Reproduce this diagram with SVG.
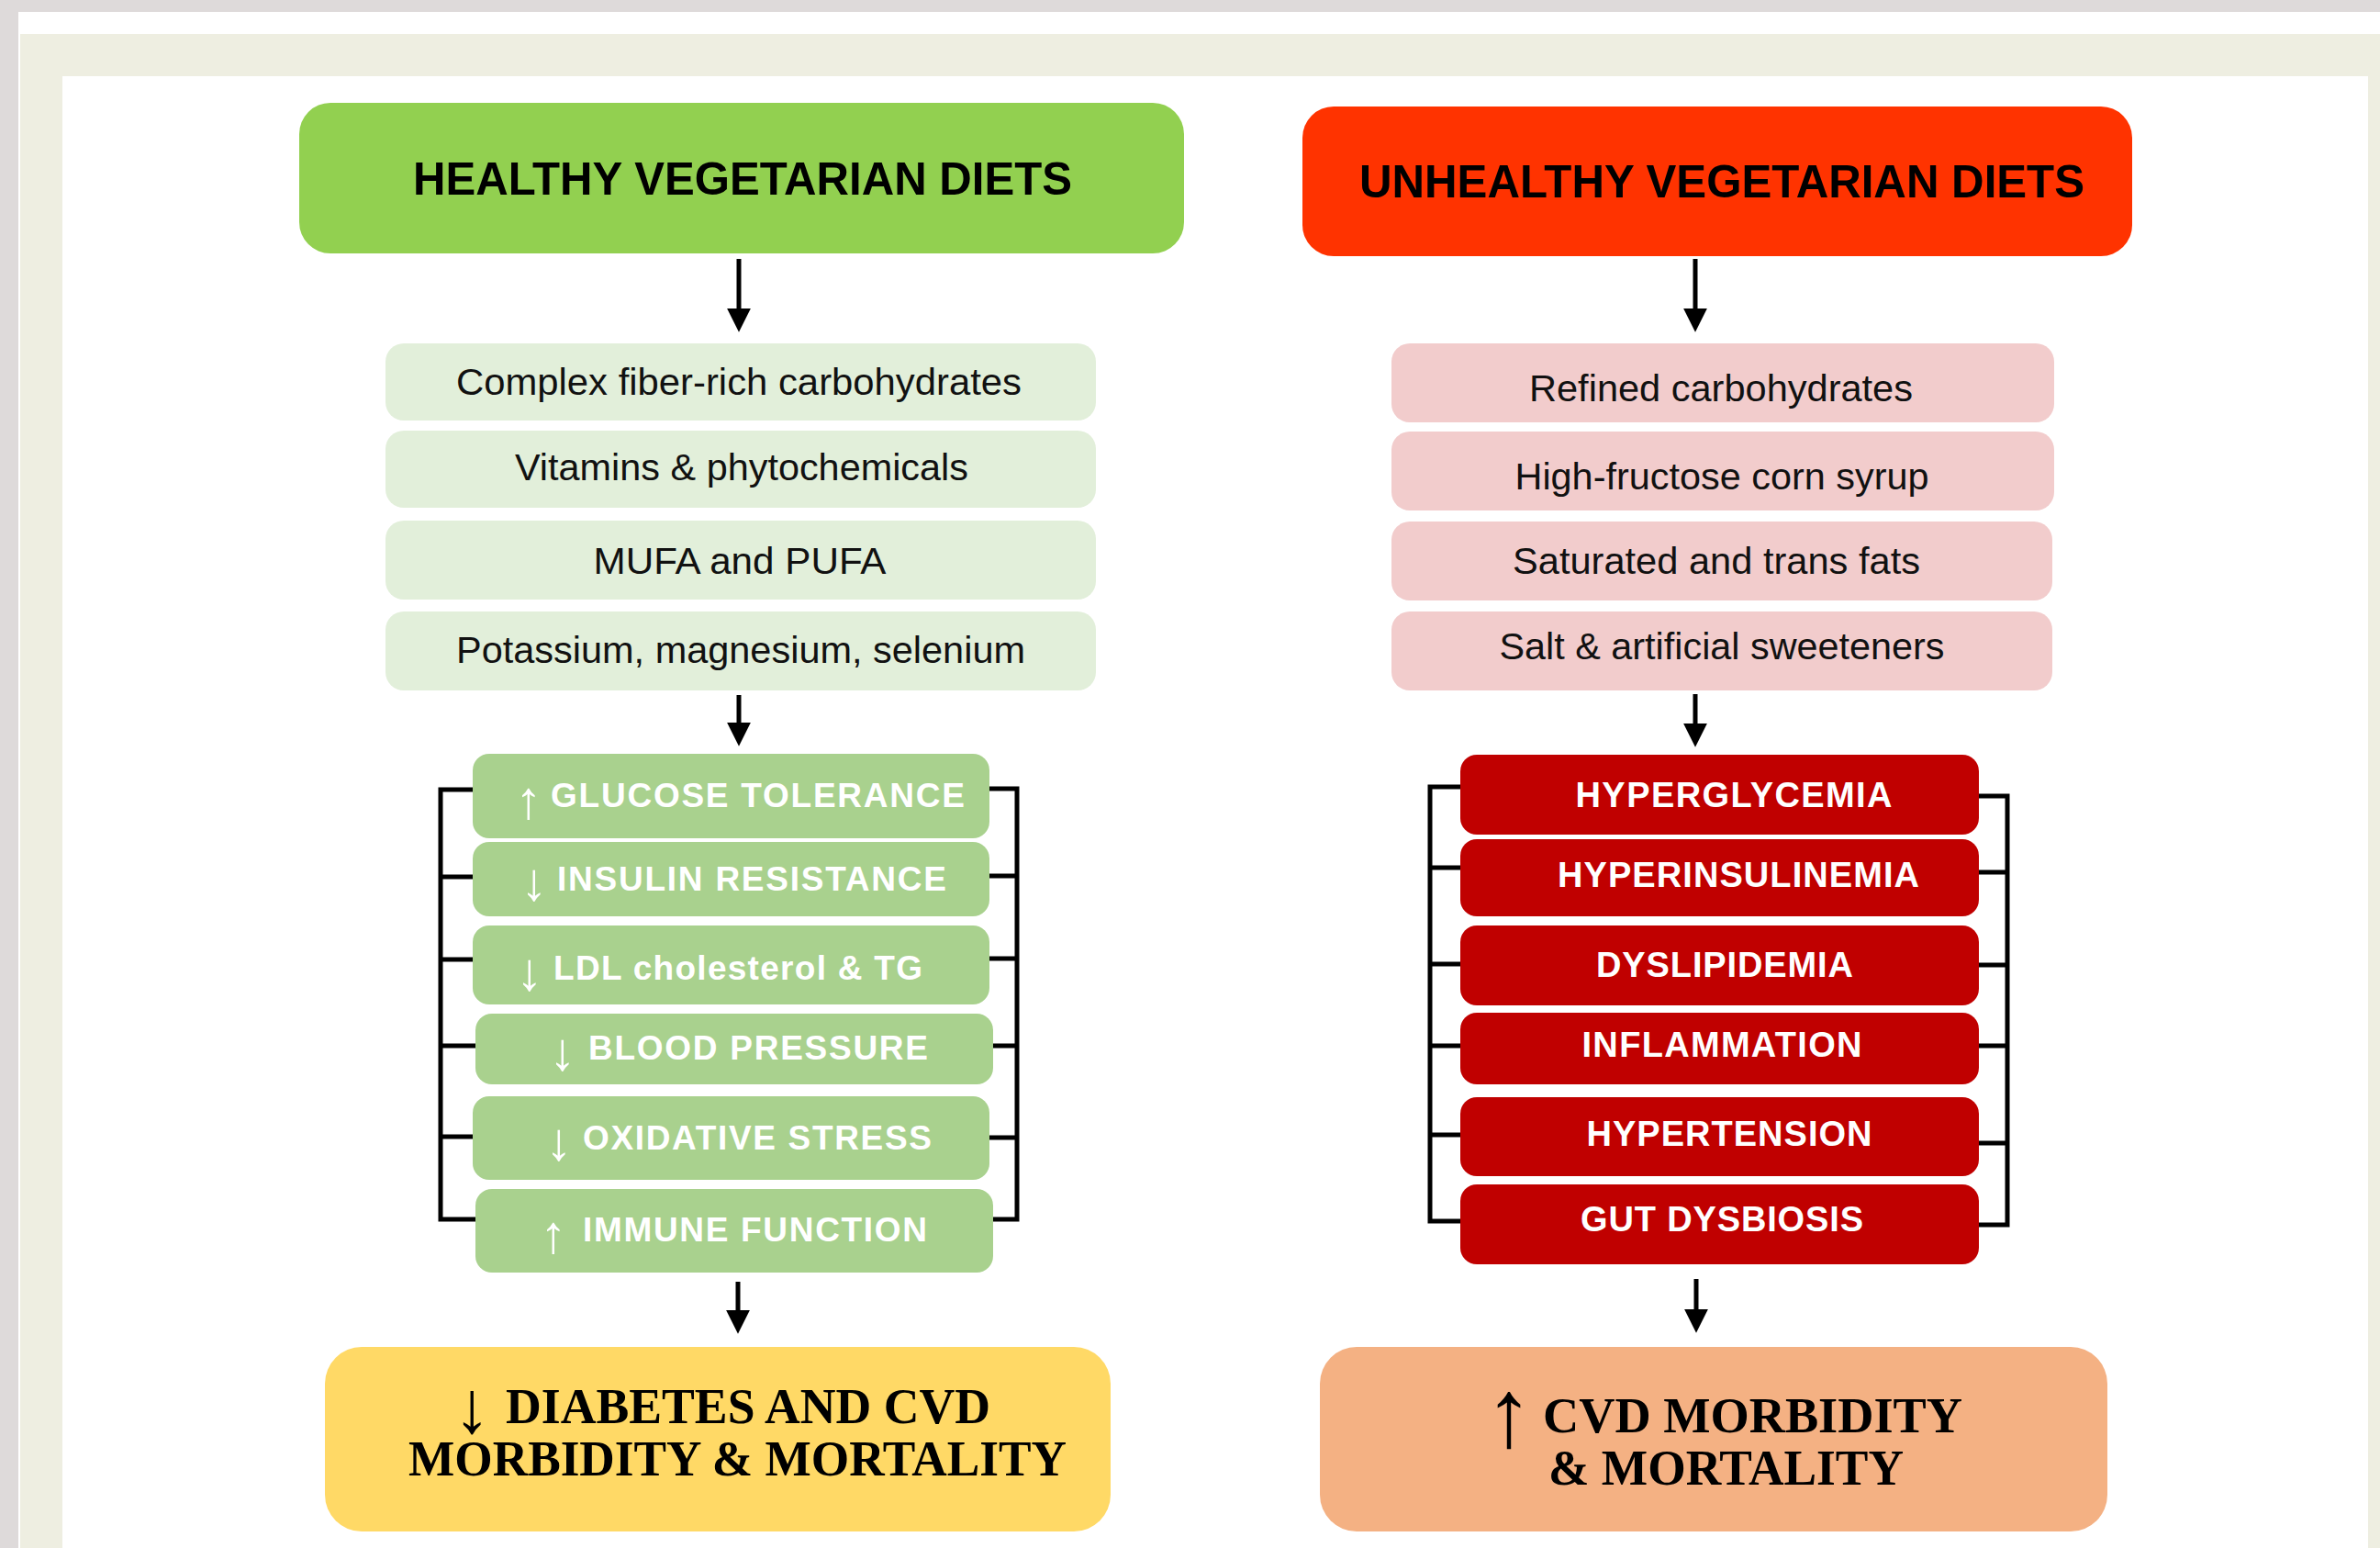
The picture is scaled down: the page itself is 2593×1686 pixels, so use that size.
<svg xmlns="http://www.w3.org/2000/svg" width="2593" height="1686" viewBox="0 0 2593 1686">
  <style>
    .hdr { font-family: "Liberation Sans", Arial, sans-serif; font-weight: bold; font-size: 50px; fill: #000; text-anchor: middle; }
    .item { font-family: "Liberation Sans", Arial, sans-serif; font-size: 41px; fill: #111; text-anchor: middle; }
    .eff { font-family: "Liberation Sans", Arial, sans-serif; font-weight: bold; font-size: 37px; fill: #fff; }
    .effR { font-family: "Liberation Sans", Arial, sans-serif; font-weight: bold; font-size: 38px; fill: #fff; text-anchor: middle; }
    .sym { font-family: "Liberation Sans", Arial, sans-serif; font-size: 58px; fill: #fff; text-anchor: middle; }
    .out { font-family: "Liberation Serif", "Times New Roman", serif; font-weight: bold; font-size: 54px; fill: #000; }
    .outsym { font-family: "Liberation Serif", "Times New Roman", serif; fill: #000; text-anchor: middle; }
    .conn { stroke: #000; stroke-width: 5; fill: none; }
    .brk { stroke: #000; stroke-width: 5; fill: none; stroke-linejoin: miter; }
    .hG { fill: #92D050; }
    .hR { fill: #FF3300; }
    .iG { fill: #E2EFDA; }
    .iR { fill: #F2CCCC; }
    .eG { fill: #A9D18E; }
    .eR { fill: #C00000; }
  </style>
  <defs>
    <marker id="head" viewBox="0 0 10 10" refX="0.5" refY="5" markerWidth="26" markerHeight="26" markerUnits="userSpaceOnUse" orient="auto">
      <path d="M0,0 L10,5 L0,10 z" fill="#000"/>
    </marker>
  </defs>

  <!-- page frame -->
  <g id="frame">
    <rect x="0" y="0" width="2593" height="1686" fill="#DEDADA"/>
    <rect x="20" y="13" width="2573" height="1673" fill="#FFFFFF"/>
    <rect x="22" y="37" width="2571" height="1649" fill="#EEEEE1"/>
    <rect x="68" y="83" width="2512" height="1603" fill="#FFFFFF"/>
  </g>

  <!-- connectors -->
  <g id="connectors">
    <line class="conn" x1="805" y1="282" x2="805" y2="337" marker-end="url(#head)"/>
    <line class="conn" x1="1847" y1="282" x2="1847" y2="337" marker-end="url(#head)"/>
    <line class="conn" x1="805" y1="757" x2="805" y2="788" marker-end="url(#head)"/>
    <line class="conn" x1="1847" y1="756" x2="1847" y2="789" marker-end="url(#head)"/>
    <line class="conn" x1="804" y1="1396" x2="804" y2="1428" marker-end="url(#head)"/>
    <line class="conn" x1="1848" y1="1393" x2="1848" y2="1427" marker-end="url(#head)"/>

    <!-- brackets round the left effect stack -->
    <path class="brk" d="M516,860 H480 V1328 H518 M480,955 H516 M480,1045 H516 M480,1139 H519 M480,1238 H516"/>
    <path class="brk" d="M1078,859 H1108 V1328 H1082 M1108,954 H1078 M1108,1044 H1078 M1108,1139 H1082 M1108,1239 H1078"/>
    <!-- brackets round the right effect stack -->
    <path class="brk" d="M1592,857 H1558 V1330 H1592 M1558,945 H1592 M1558,1050 H1592 M1558,1139 H1592 M1558,1236 H1592"/>
    <path class="brk" d="M2155,867 H2187 V1334 H2155 M2187,950 H2155 M2187,1051 H2155 M2187,1139 H2155 M2187,1245 H2155"/>
  </g>

  <!-- headers -->
  <g id="healthy-diets">
    <rect class="hG" x="326" y="112" width="964" height="164" rx="34"/>
    <text class="hdr" x="809" y="212" textLength="718" lengthAdjust="spacingAndGlyphs">HEALTHY VEGETARIAN DIETS</text>
  </g>
  <g id="unhealthy-diets">
    <rect class="hR" x="1419" y="116" width="904" height="163" rx="34"/>
    <text class="hdr" x="1876" y="215" textLength="790" lengthAdjust="spacingAndGlyphs">UNHEALTHY VEGETARIAN DIETS</text>
  </g>

  <!-- healthy components -->
  <g id="complex-carbs">
    <rect class="iG" x="420" y="374" width="774" height="84" rx="20"/>
    <text class="item" x="805" y="430" textLength="616" lengthAdjust="spacingAndGlyphs">Complex fiber-rich carbohydrates</text>
  </g>
  <g id="vitamins">
    <rect class="iG" x="420" y="469" width="774" height="84" rx="20"/>
    <text class="item" x="808" y="523" textLength="494" lengthAdjust="spacingAndGlyphs">Vitamins &amp; phytochemicals</text>
  </g>
  <g id="mufa-pufa">
    <rect class="iG" x="420" y="567" width="774" height="86" rx="20"/>
    <text class="item" x="806" y="625" textLength="319" lengthAdjust="spacingAndGlyphs">MUFA and PUFA</text>
  </g>
  <g id="minerals">
    <rect class="iG" x="420" y="666" width="774" height="86" rx="20"/>
    <text class="item" x="807" y="722" textLength="620" lengthAdjust="spacingAndGlyphs">Potassium, magnesium, selenium</text>
  </g>

  <!-- unhealthy components -->
  <g id="refined-carbs">
    <rect class="iR" x="1516" y="374" width="722" height="86" rx="20"/>
    <text class="item" x="1875" y="437" textLength="418" lengthAdjust="spacingAndGlyphs">Refined carbohydrates</text>
  </g>
  <g id="hfcs">
    <rect class="iR" x="1516" y="470" width="722" height="86" rx="20"/>
    <text class="item" x="1876" y="533" textLength="451" lengthAdjust="spacingAndGlyphs">High-fructose corn syrup</text>
  </g>
  <g id="sat-trans-fats">
    <rect class="iR" x="1516" y="568" width="720" height="86" rx="20"/>
    <text class="item" x="1870" y="625" textLength="444" lengthAdjust="spacingAndGlyphs">Saturated and trans fats</text>
  </g>
  <g id="salt-sweeteners">
    <rect class="iR" x="1516" y="666" width="720" height="86" rx="20"/>
    <text class="item" x="1876" y="718" textLength="485" lengthAdjust="spacingAndGlyphs">Salt &amp; artificial sweeteners</text>
  </g>

  <!-- healthy effects -->
  <g id="glucose-tolerance">
    <rect class="eG" x="515" y="821" width="563" height="92" rx="18"/>
    <text class="sym" x="576" y="891">↑</text>
    <text class="eff" x="600" y="879" textLength="451" lengthAdjust="spacing">GLUCOSE TOLERANCE</text>
  </g>
  <g id="insulin-resistance">
    <rect class="eG" x="515" y="917" width="563" height="81" rx="18"/>
    <text class="sym" x="582" y="980">↓</text>
    <text class="eff" x="607" y="970" textLength="424" lengthAdjust="spacing">INSULIN RESISTANCE</text>
  </g>
  <g id="ldl-tg">
    <rect class="eG" x="515" y="1008" width="563" height="86" rx="18"/>
    <text class="sym" x="577" y="1078">↓</text>
    <text class="eff" x="603" y="1067" textLength="402" lengthAdjust="spacing">LDL cholesterol &amp; TG</text>
  </g>
  <g id="blood-pressure">
    <rect class="eG" x="518" y="1104" width="564" height="77" rx="18"/>
    <text class="sym" x="613" y="1165">↓</text>
    <text class="eff" x="641" y="1154" textLength="370" lengthAdjust="spacing">BLOOD PRESSURE</text>
  </g>
  <g id="oxidative-stress">
    <rect class="eG" x="515" y="1194" width="563" height="91" rx="18"/>
    <text class="sym" x="609" y="1263">↓</text>
    <text class="eff" x="635" y="1252" textLength="380" lengthAdjust="spacing">OXIDATIVE STRESS</text>
  </g>
  <g id="immune-function">
    <rect class="eG" x="518" y="1295" width="564" height="91" rx="18"/>
    <text class="sym" x="603" y="1364">↑</text>
    <text class="eff" x="635" y="1352" textLength="375" lengthAdjust="spacing">IMMUNE FUNCTION</text>
  </g>

  <!-- unhealthy effects -->
  <g id="hyperglycemia">
    <rect class="eR" x="1591" y="822" width="565" height="87" rx="18"/>
    <text class="effR" x="1889" y="879" textLength="345" lengthAdjust="spacing">HYPERGLYCEMIA</text>
  </g>
  <g id="hyperinsulinemia">
    <rect class="eR" x="1591" y="914" width="565" height="84" rx="18"/>
    <text class="effR" x="1894" y="966" textLength="394" lengthAdjust="spacing">HYPERINSULINEMIA</text>
  </g>
  <g id="dyslipidemia">
    <rect class="eR" x="1591" y="1008" width="565" height="87" rx="18"/>
    <text class="effR" x="1879" y="1064" textLength="280" lengthAdjust="spacing">DYSLIPIDEMIA</text>
  </g>
  <g id="inflammation">
    <rect class="eR" x="1591" y="1103" width="565" height="78" rx="18"/>
    <text class="effR" x="1876" y="1151" textLength="305" lengthAdjust="spacing">INFLAMMATION</text>
  </g>
  <g id="hypertension">
    <rect class="eR" x="1591" y="1195" width="565" height="86" rx="18"/>
    <text class="effR" x="1884" y="1248" textLength="311" lengthAdjust="spacing">HYPERTENSION</text>
  </g>
  <g id="gut-dysbiosis">
    <rect class="eR" x="1591" y="1290" width="565" height="87" rx="18"/>
    <text class="effR" x="1876" y="1341" textLength="308" lengthAdjust="spacing">GUT DYSBIOSIS</text>
  </g>

  <!-- outcomes -->
  <g id="healthy-outcome">
    <rect x="354" y="1467" width="856" height="201" rx="40" fill="#FFD966"/>
    <text class="outsym" x="514" y="1560" font-size="80">↓</text>
    <text class="out" x="551" y="1550" textLength="528" lengthAdjust="spacingAndGlyphs">DIABETES AND CVD</text>
    <text class="out" x="445" y="1607" textLength="717" lengthAdjust="spacingAndGlyphs">MORBIDITY &amp; MORTALITY</text>
  </g>
  <g id="unhealthy-outcome">
    <rect x="1438" y="1467" width="858" height="201" rx="40" fill="#F4B183"/>
    <text class="outsym" x="1644" y="1575" font-size="105">↑</text>
    <text class="out" x="1681" y="1560" textLength="457" lengthAdjust="spacingAndGlyphs">CVD MORBIDITY</text>
    <text class="out" x="1687" y="1617" textLength="387" lengthAdjust="spacingAndGlyphs">&amp; MORTALITY</text>
  </g>
</svg>
